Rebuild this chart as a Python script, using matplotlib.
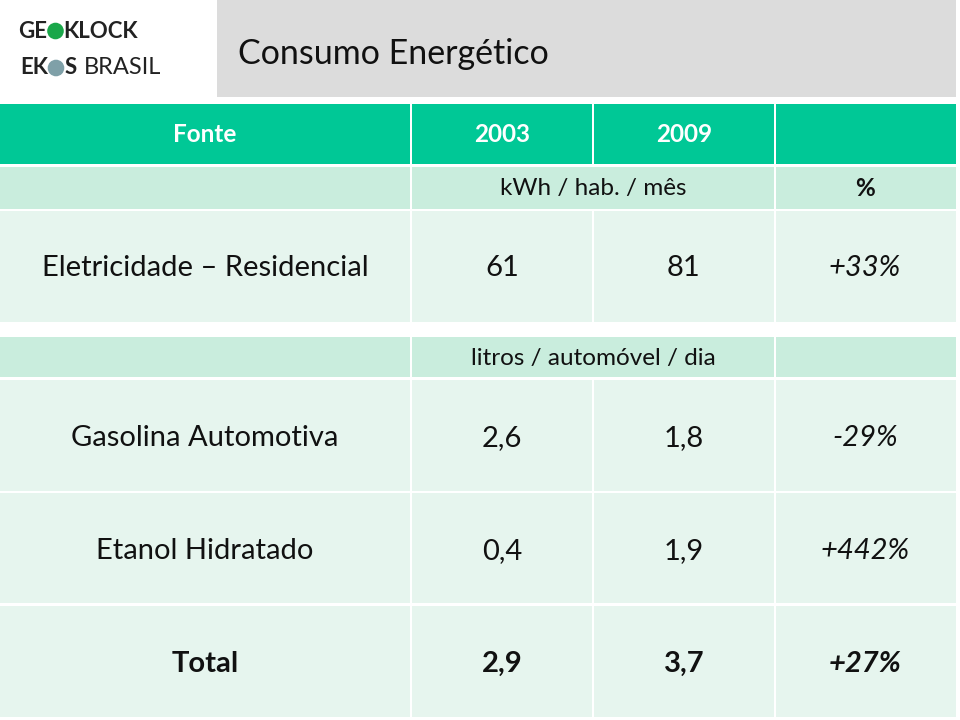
import matplotlib
matplotlib.use("Agg")
import matplotlib.pyplot as plt
from matplotlib.patches import Rectangle, Circle

plt.rcParams['font.family'] = ['Lato', 'DejaVu Sans']

# ---- data ----
title = "Consumo Energético"
header = ["Fonte", "2003", "2009", ""]
unit_elec = "kWh / hab. / mês"
unit_pct = "%"
unit_fuel = "litros / automóvel / dia"
elec_label = "Eletricidade – Residencial"
elec_2003 = "61"
elec_2009 = "81"
elec_pct = "+33%"
fuel_labels = ["Gasolina Automotiva", "Etanol Hidratado"]
fuel_2003 = ["2,6", "0,4"]
fuel_2009 = ["1,8", "1,9"]
fuel_pct = ["-29%", "+442%"]
total_label = "Total"
total_2003 = "2,9"
total_2009 = "3,7"
total_pct = "+27%"

# ---- style ----
GREEN = "#00C896"
MINT = "#C9EDDD"
LIGHT = "#E6F5EE"
GRAY = "#DCDCDC"
cols = [0, 411, 593, 775, 956]
BODY = 21
SMALL = 17.5

fig = plt.figure(figsize=(9.6, 7.2), dpi=100)
ax = fig.add_axes([0, 0, 1, 1])
ax.set_xlim(0, 960)
ax.set_ylim(720, 0)
ax.axis("off")

def cell(x0, x1, y0, y1, color):
    ax.add_patch(Rectangle((x0, y0), x1 - x0, y1 - y0, facecolor=color,
                           edgecolor="none"))

def row(y0, y1, color, merged=None):
    for i in range(4):
        x0 = cols[i] + (1 if i > 0 else 0)
        x1 = cols[i + 1] - (1 if i < 3 else 0)
        if merged and i in merged:
            continue
        cell(x0, x1, y0, y1, color)
    if merged:
        cell(cols[merged[0]] + 1, cols[merged[-1] + 1] - 1, y0, y1, color)

# title box
cell(217, 956, 0, 97, GRAY)
ax.text(238, 54, title, fontsize=24.5, va="center", ha="left", color="#111111")

# logo
ax.text(18, 31, "GE", fontsize=16, fontweight="bold", va="center", ha="left", color="#222222")
ax.add_patch(Circle((55.5, 31), 8.3, facecolor="#1AA74A", edgecolor="none"))
ax.text(63.5, 31, "KLOCK", fontsize=16, fontweight="bold", va="center", ha="left", color="#222222")
ax.text(20, 68, "EK", fontsize=16, fontweight="bold", va="center", ha="left", color="#222222")
ax.add_patch(Circle((56, 68), 8.3, facecolor="#7FA0A8", edgecolor="none"))
ax.text(64.5, 68, "S", fontsize=16, fontweight="bold", va="center", ha="left", color="#222222")
ax.text(84, 68, "BRASIL", fontsize=17, va="center", ha="left", color="#222222")

# header row
row(104, 164, GREEN)
hx = [205, 502, 684, 865]
for i, h in enumerate(header):
    ax.text(hx[i], 135, h, fontsize=SMALL, fontweight="bold", color="white",
            va="center", ha="center")

# unit row 1
row(167, 209, MINT, merged=[1, 2])
ax.text(593, 188, unit_elec, fontsize=SMALL, va="center", ha="center", color="#111111")
ax.text(865, 189, unit_pct, fontsize=SMALL, fontweight="bold", va="center", ha="center", color="#111111")

# electricity row
row(211, 322, LIGHT)
ax.text(205, 268, elec_label, fontsize=BODY, va="center", ha="center", color="#111111")
ax.text(502, 268, elec_2003, fontsize=BODY, va="center", ha="center", color="#111111")
ax.text(684, 268, elec_2009, fontsize=BODY, va="center", ha="center", color="#111111")
ax.text(865, 268, elec_pct, fontsize=BODY, style="italic", va="center", ha="center", color="#111111")

# unit row 2
row(337, 377, MINT, merged=[1, 2])
ax.text(593, 358, unit_fuel, fontsize=SMALL, va="center", ha="center", color="#111111")

# fuel rows
ys = [(380, 491), (493, 603)]
for k, (y0, y1) in enumerate(ys):
    row(y0, y1, LIGHT)
    yc = (y0 + y1) / 2 + 3
    ax.text(205, yc, fuel_labels[k], fontsize=BODY, va="center", ha="center", color="#111111")
    ax.text(502, yc, fuel_2003[k], fontsize=BODY, va="center", ha="center", color="#111111")
    ax.text(684, yc, fuel_2009[k], fontsize=BODY, va="center", ha="center", color="#111111")
    ax.text(865, yc, fuel_pct[k], fontsize=BODY, style="italic", va="center", ha="center", color="#111111")

# total row
row(606, 717, LIGHT)
yc = 664
ax.text(205, yc, total_label, fontsize=BODY, fontweight="bold", va="center", ha="center", color="#111111")
ax.text(502, yc, total_2003, fontsize=BODY, fontweight="bold", va="center", ha="center", color="#111111")
ax.text(684, yc, total_2009, fontsize=BODY, fontweight="bold", va="center", ha="center", color="#111111")
ax.text(865, yc, total_pct, fontsize=BODY, fontweight="bold", style="italic", va="center", ha="center", color="#111111")

fig.savefig("out.png", dpi=100, facecolor="white")
